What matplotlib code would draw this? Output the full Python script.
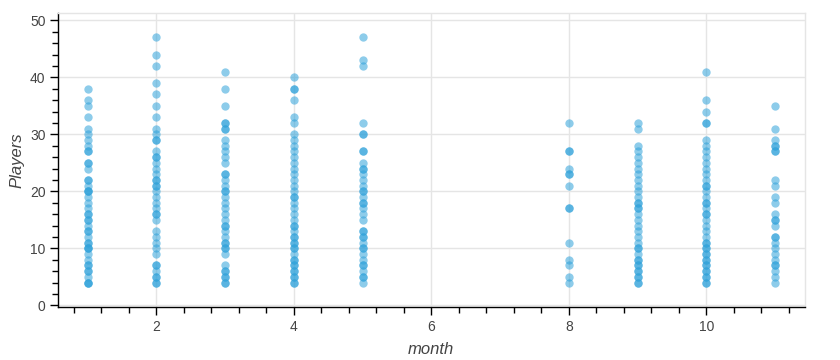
import numpy as np
import matplotlib
matplotlib.use("Agg")
import matplotlib.pyplot as plt
from matplotlib.ticker import MultipleLocator

# --- datos: jugadores por mes (valores repetidos = puntos superpuestos) ---
players_m1 = [38, 36, 35, 33, 31, 30, 29, 28, 27, 27, 25, 25, 24, 22, 22, 21, 20, 20, 20,
              19, 18, 17, 16, 16, 15, 15, 14, 13, 13, 12, 11, 11, 10, 10, 10, 9, 8, 7, 7,
              6, 6, 5, 4, 4, 4]
players_m2 = [47, 44, 42, 39, 37, 35, 33, 31, 30, 29, 29, 27, 26, 26, 25, 24, 23, 22, 22,
              21, 21, 20, 19, 18, 17, 16, 16, 15, 13, 12, 11, 10, 9, 7, 7, 6, 5, 5, 4, 4]
players_m3 = [41, 38, 35, 32, 32, 31, 31, 29, 28, 27, 26, 25, 23, 23, 22, 21, 20, 20, 19,
              18, 17, 16, 15, 14, 14, 13, 12, 11, 11, 10, 10, 9, 7, 6, 6, 5, 5, 4, 4]
players_m4 = [40, 38, 38, 36, 33, 32, 30, 29, 28, 27, 26, 25, 24, 23, 22, 21, 20, 19, 19,
              18, 17, 16, 15, 14, 14, 13, 12, 12, 11, 11, 10, 10, 9, 8, 8, 7, 7, 6, 6,
              5, 5, 4, 4]
players_m5 = [47, 43, 42, 32, 30, 30, 27, 27, 25, 24, 24, 23, 22, 21, 20, 20, 19, 18, 18,
              17, 16, 15, 13, 13, 12, 12, 11, 10, 10, 9, 8, 7, 7, 6, 5, 5, 4]
players_m8 = [32, 27, 27, 24, 23, 23, 21, 17, 17, 11, 8, 7, 5, 4]
players_m9 = [32, 31, 28, 27, 26, 25, 24, 23, 22, 21, 20, 19, 18, 18, 17, 17, 16, 15, 14,
              13, 12, 11, 10, 10, 9, 8, 8, 7, 7, 6, 6, 5, 5, 4, 4]
players_m10 = [41, 36, 34, 32, 32, 29, 28, 27, 26, 25, 24, 23, 22, 21, 21, 20, 19, 18, 18,
               17, 16, 16, 15, 14, 13, 12, 11, 11, 10, 10, 9, 9, 8, 8, 7, 7, 6, 6, 5, 5,
               4, 4]
players_m11 = [35, 31, 29, 28, 28, 27, 27, 22, 21, 19, 18, 16, 15, 15, 14, 12, 12, 11, 10,
               9, 8, 7, 7, 6, 5, 4]

months = [1, 2, 3, 4, 5, 8, 9, 10, 11]
players_by_month = [players_m1, players_m2, players_m3, players_m4, players_m5,
                    players_m8, players_m9, players_m10, players_m11]

x_vals = np.concatenate([[m] * len(p) for m, p in zip(months, players_by_month)])
y_vals = np.concatenate(players_by_month)

# --- figura ---
plt.rcParams['font.family'] = ['Liberation Sans', 'DejaVu Sans']
fig = plt.figure(figsize=(8.4, 3.6), dpi=100)
ax = fig.add_axes([0.069, 0.147, 0.889, 0.817])

ax.scatter(x_vals, y_vals, s=36, color='#30a2da', alpha=0.55, linewidths=0, zorder=3)

ax.set_xlim(0.57, 11.43)
ax.set_ylim(-0.3, 51.3)

ax.xaxis.set_major_locator(MultipleLocator(2))
ax.xaxis.set_minor_locator(MultipleLocator(0.4))
ax.yaxis.set_major_locator(MultipleLocator(10))
ax.yaxis.set_minor_locator(MultipleLocator(2))

ax.grid(True, which='major', color='#e5e5e5', linewidth=1, zorder=0)
ax.set_axisbelow(True)

for side in ['top', 'right']:
    ax.spines[side].set_color('#e5e5e5')
    ax.spines[side].set_linewidth(1)
for side in ['left', 'bottom']:
    ax.spines[side].set_color('black')
    ax.spines[side].set_linewidth(1)

ax.tick_params(which='major', direction='out', length=6, width=1, color='black',
               labelsize=10, labelcolor='#444444', pad=3)
ax.tick_params(which='minor', direction='out', length=4, width=1, color='black')

ax.set_xlabel('month', fontsize=12, fontstyle='italic', color='#444444', labelpad=6)
ax.set_ylabel('Players', fontsize=12, fontstyle='italic', color='#444444', labelpad=4)

fig.savefig('out.png', dpi=100)
